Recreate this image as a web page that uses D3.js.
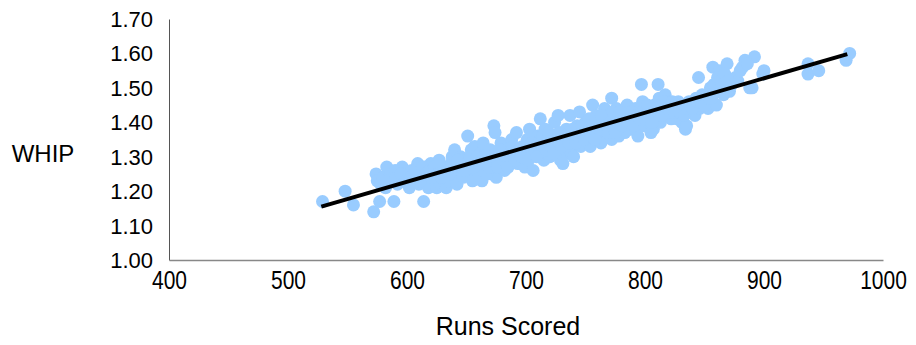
<!DOCTYPE html>
<html>
<head>
<meta charset="utf-8">
<script src="https://cdn.jsdelivr.net/npm/d3@7/dist/d3.min.js"></script>
<style>
  body { margin: 0; background: #fff; }
  svg { display: block; font-family: "Liberation Sans", Arial, sans-serif; }
</style>
</head>
<body>
<svg id="chart" width="916" height="345"></svg>
<script>
// runs scored vs WHIP, one point per team season
const points = [
  [529,1.17],[548,1.20],[555,1.16],[572,1.14],[577,1.17],[589,1.17],[614,1.17],
  [574,1.25],[575,1.23],[578,1.22],[580,1.24],[583,1.27],[582,1.21],[586,1.25],[588,1.23],
  [590,1.26],[592,1.22],[594,1.24],[596,1.27],[597,1.23],[600,1.25],[602,1.21],[604,1.26],
  [606,1.24],[609,1.28],[610,1.22],[612,1.25],[615,1.27],[617,1.23],[618,1.21],[620,1.28],
  [622,1.26],[624,1.24],[625,1.21],[627,1.29],[628,1.22],[630,1.27],[632,1.25],[633,1.21],
  [635,1.23],[637,1.28],[638,1.30],[640,1.32],[641,1.25],[642,1.22],[644,1.27],[645,1.30],
  [647,1.24],[649,1.29],[651,1.36],[652,1.26],[654,1.32],[655,1.23],[657,1.33],[658,1.28],
  [660,1.25],[662,1.31],[663,1.23],[664,1.34],[666,1.27],[668,1.29],[670,1.32],[671,1.25],
  [673,1.39],[674,1.37],[675,1.24],[677,1.30],[679,1.34],[680,1.27],[682,1.26],[684,1.32],
  [686,1.29],[688,1.35],[690,1.31],[692,1.37],[693,1.28],[695,1.28],[697,1.33],[699,1.27],
  [701,1.35],[703,1.38],[704,1.30],[706,1.26],[708,1.33],[710,1.36],[712,1.41],[713,1.31],
  [715,1.29],[716,1.38],[718,1.34],[720,1.30],[722,1.36],[724,1.40],[726,1.32],[727,1.42],
  [729,1.29],[731,1.28],[732,1.35],[734,1.38],[735,1.31],[737,1.42],[738,1.31],[740,1.30],
  [741,1.36],[743,1.39],[745,1.43],[746,1.33],[748,1.37],[750,1.40],[752,1.35],[754,1.33],
  [756,1.45],[757,1.38],[759,1.42],[761,1.36],[763,1.34],[765,1.40],[766,1.44],[768,1.37],
  [770,1.42],[772,1.47],[772,1.35],[774,1.39],[776,1.44],[778,1.36],[780,1.41],[782,1.38],
  [783,1.37],[785,1.45],[786,1.43],[788,1.38],[790,1.41],[792,1.44],[794,1.36],[795,1.39],
  [797,1.51],[798,1.46],[799,1.39],[801,1.43],[803,1.40],[805,1.37],[807,1.38],[808,1.45],
  [810,1.42],[811,1.51],[812,1.47],[813,1.40],[815,1.44],[817,1.48],[818,1.43],[820,1.46],
  [822,1.41],[824,1.44],[827,1.41],[828,1.46],[831,1.40],[832,1.44],[834,1.38],[835,1.39],
  [837,1.46],[839,1.43],[842,1.42],[843,1.47],[845,1.53],[846,1.44],[848,1.48],[849,1.47],
  [853,1.44],[853,1.46],[855,1.50],[857,1.56],[857,1.49],[860,1.45],[863,1.51],[863,1.55],
  [866,1.48],[869,1.57],[871,1.49],[876,1.53],[878,1.52],[884,1.58],[888,1.50],[890,1.50],
  [892,1.59],[899,1.54],[900,1.55],[937,1.57],[937,1.54],[946,1.55],[969,1.58],[972,1.60],
  [584,1.23],[591,1.24],[595,1.25],[599,1.23],[603,1.24],[607,1.26],[611,1.23],[613,1.27],
  [616,1.25],[619,1.26],[621,1.24],[623,1.27],[626,1.25],[629,1.24],[631,1.26],[634,1.26],
  [636,1.25],[639,1.27],[643,1.29],[646,1.27],[648,1.26],[650,1.28],[653,1.30],[656,1.27],
  [659,1.30],[661,1.28],[665,1.30],[667,1.25],[669,1.27],[672,1.30],[676,1.27],[678,1.32],
  [681,1.29],[683,1.30],[685,1.27],[687,1.31],[689,1.33],[691,1.29],[694,1.32],[696,1.30],
  [698,1.31],[700,1.33],[702,1.29],[705,1.34],[707,1.32],[709,1.30],[711,1.34],[714,1.36],
  [717,1.32],[719,1.37],[721,1.33],[723,1.31],[725,1.35],[728,1.37],[730,1.33],[733,1.36],
  [736,1.34],[739,1.38],[742,1.34],[744,1.36],[747,1.39],[749,1.35],[751,1.37],[753,1.41],
  [755,1.36],[758,1.35],[760,1.39],[762,1.38],[764,1.42],[767,1.39],[769,1.37],[771,1.40],
  [773,1.43],[775,1.37],[777,1.40],[779,1.43],[781,1.39],[784,1.41],[787,1.40],[789,1.43],
  [791,1.39],[793,1.42],[796,1.41],[800,1.41],[802,1.45],[804,1.42],[806,1.40],[809,1.44],
  [814,1.42],[816,1.46],[819,1.44],[821,1.43],[823,1.46],[825,1.43],[829,1.43],[833,1.42],
  [836,1.44],[838,1.45],[840,1.44],[844,1.46],[847,1.46],[850,1.45],[852,1.48],[854,1.47],
  [856,1.47],[858,1.51],[861,1.53],[864,1.52],[867,1.54],[870,1.52],[873,1.51],[880,1.55],
  [882,1.56],[886,1.57]
];

// linear trendline as drawn in the original
const trend = [[528, 1.155], [970, 1.598]];

const xTicks = [400, 500, 600, 700, 800, 900, 1000];
const yTicks = [1.0, 1.1, 1.2, 1.3, 1.4, 1.5, 1.6, 1.7];

const svg = d3.select('#chart');
const margin = { top: 19, right: 33, bottom: 85, left: 169 };
const width = +svg.attr('width') - margin.left - margin.right;
const height = +svg.attr('height') - margin.top - margin.bottom;

const g = svg.append('g').attr('transform', `translate(${margin.left},${margin.top})`);

const x = d3.scaleLinear().domain([400, 1000]).range([0, width]);
const y = d3.scaleLinear().domain([1.0, 1.7]).range([height, 0]);

// y axis
const yAxis = g.append('g')
  .call(d3.axisLeft(y).tickValues(yTicks).tickSize(0).tickPadding(16).tickFormat(d3.format('.2f')));
yAxis.select('.domain').attr('stroke', '#555').attr('stroke-width', 1);
yAxis.selectAll('text').attr('font-size', 22).attr('fill', '#000').attr('dy', '0.34em');

// x axis, labels a bit taller like the original
const xAxis = g.append('g')
  .attr('transform', `translate(0,${height})`)
  .call(d3.axisBottom(x).tickValues(xTicks).tickSize(0).tickPadding(0).tickFormat(d3.format('d')));
xAxis.select('.domain').attr('stroke', '#888').attr('stroke-width', 1.5);
xAxis.selectAll('text')
  .attr('font-size', 21).attr('fill', '#000').attr('dy', '0.71em')
  .attr('transform', 'translate(0,11) scale(1,1.2)');

// points
g.selectAll('circle')
  .data(points)
  .enter()
  .append('circle')
  .attr('cx', d => x(d[0]))
  .attr('cy', d => y(d[1]))
  .attr('r', 6.5)
  .attr('fill', '#99ccff');

// trendline
g.append('path')
  .datum(trend)
  .attr('fill', 'none')
  .attr('stroke', '#000')
  .attr('stroke-width', 4)
  .attr('d', d3.line().x(d => x(d[0])).y(d => y(d[1])));

// axis titles
svg.append('text')
  .attr('x', 43).attr('y', 156)
  .attr('text-anchor', 'middle')
  .attr('dominant-baseline', 'middle')
  .attr('font-size', 24)
  .text('WHIP');

svg.append('text')
  .attr('x', 508).attr('y', 328)
  .attr('text-anchor', 'middle')
  .attr('dominant-baseline', 'middle')
  .attr('font-size', 25)
  .text('Runs Scored');
</script>
</body>
</html>
